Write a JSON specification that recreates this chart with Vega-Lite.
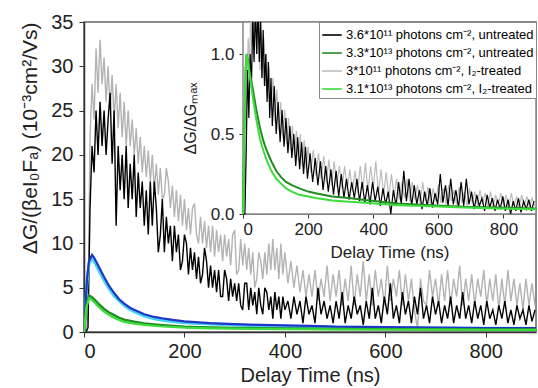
{
"$schema": "https://vega.github.io/schema/vega-lite/v6.json",
"autosize": {"type": "none"},
"padding": {"left": 84, "top": 22, "right": 2, "bottom": 56},
"width": 452,
"height": 310,
"config": {
  "font": "Liberation Sans",
  "view": {"stroke": "#666", "strokeWidth": 1.5},
  "axis": {"grid": false, "domainColor": "#333", "domainWidth": 1.5, "tickColor": "#333", "labelColor": "#222", "titleColor": "#222", "titleFontWeight": "normal", "zindex": 1}
},
"datasets": {
  "mk": [{"t":0,"v":0},{"t":4,"v":0},{"t":8,"v":0.5},{"t":12,"v":14},{"t":16,"v":21},{"t":20,"v":18},{"t":24,"v":25},{"t":28,"v":20},{"t":32,"v":26},{"t":36,"v":21},{"t":40,"v":25},{"t":44,"v":20},{"t":48,"v":24},{"t":52,"v":27},{"t":56,"v":19},{"t":60,"v":25},{"t":64,"v":12},{"t":68,"v":21},{"t":72,"v":16},{"t":76,"v":20},{"t":80,"v":15},{"t":84,"v":21},{"t":88,"v":14},{"t":92,"v":19},{"t":96,"v":15},{"t":100,"v":20},{"t":104,"v":13},{"t":108,"v":18},{"t":112,"v":14},{"t":116,"v":17},{"t":120,"v":12},{"t":124,"v":16},{"t":128,"v":11},{"t":132,"v":17},{"t":136,"v":12},{"t":140,"v":17},{"t":144,"v":14},{"t":148,"v":9},{"t":152,"v":11},{"t":156,"v":15},{"t":160,"v":9},{"t":164,"v":13},{"t":168,"v":10},{"t":172,"v":12},{"t":176,"v":8},{"t":180,"v":12},{"t":184,"v":9},{"t":188,"v":11},{"t":192,"v":7},{"t":196,"v":8},{"t":200,"v":11},{"t":204,"v":10},{"t":208,"v":6.5},{"t":212,"v":9.5},{"t":216,"v":7},{"t":220,"v":9},{"t":224,"v":6},{"t":228,"v":8.5},{"t":232,"v":5.5},{"t":236,"v":6.5},{"t":240,"v":9.5},{"t":244,"v":8},{"t":248,"v":5},{"t":252,"v":7.5},{"t":256,"v":5},{"t":260,"v":7},{"t":264,"v":4.5},{"t":268,"v":7},{"t":272,"v":4},{"t":276,"v":4},{"t":280,"v":7},{"t":284,"v":6},{"t":288,"v":3.5},{"t":292,"v":6},{"t":296,"v":4},{"t":300,"v":5.5},{"t":304,"v":3.5},{"t":308,"v":5.5},{"t":312,"v":3},{"t":316,"v":2.5},{"t":320,"v":5.5},{"t":324,"v":5.5},{"t":328,"v":2.5},{"t":332,"v":5},{"t":336,"v":3},{"t":340,"v":4.5},{"t":344,"v":2},{"t":348,"v":5},{"t":352,"v":3},{"t":356,"v":2},{"t":360,"v":5},{"t":364,"v":4.5},{"t":368,"v":2.5},{"t":372,"v":4},{"t":376,"v":1.5},{"t":380,"v":4.5},{"t":384,"v":2.5},{"t":388,"v":4},{"t":392,"v":1.5},{"t":396,"v":4},{"t":400,"v":2.5},{"t":406,"v":3.5},{"t":412,"v":1.5},{"t":418,"v":4},{"t":424,"v":2},{"t":430,"v":3.5},{"t":436,"v":1},{"t":442,"v":4},{"t":448,"v":2},{"t":454,"v":3},{"t":460,"v":1},{"t":466,"v":5},{"t":472,"v":2},{"t":478,"v":3.5},{"t":484,"v":1.5},{"t":490,"v":3},{"t":496,"v":1},{"t":502,"v":3.5},{"t":508,"v":1.5},{"t":514,"v":4.5},{"t":520,"v":1},{"t":526,"v":3},{"t":532,"v":1.5},{"t":538,"v":4},{"t":544,"v":2},{"t":550,"v":3},{"t":556,"v":0.8},{"t":562,"v":3.5},{"t":568,"v":1.5},{"t":574,"v":5},{"t":580,"v":1.5},{"t":586,"v":3},{"t":592,"v":1},{"t":598,"v":4},{"t":604,"v":2},{"t":610,"v":5.5},{"t":616,"v":1.5},{"t":622,"v":3},{"t":628,"v":1},{"t":634,"v":4.5},{"t":640,"v":2},{"t":646,"v":3.5},{"t":652,"v":1},{"t":658,"v":4},{"t":664,"v":2},{"t":670,"v":5},{"t":676,"v":1.5},{"t":682,"v":3},{"t":688,"v":1},{"t":694,"v":4},{"t":700,"v":2},{"t":706,"v":3.5},{"t":712,"v":1},{"t":718,"v":3},{"t":724,"v":1.5},{"t":730,"v":4},{"t":736,"v":1},{"t":742,"v":3},{"t":748,"v":1.5},{"t":754,"v":4.5},{"t":760,"v":1.5},{"t":766,"v":3},{"t":772,"v":1},{"t":778,"v":3.5},{"t":784,"v":1.5},{"t":790,"v":3},{"t":796,"v":0.8},{"t":802,"v":3.5},{"t":808,"v":1.5},{"t":814,"v":2.5},{"t":820,"v":0.8},{"t":826,"v":3},{"t":832,"v":1.5},{"t":838,"v":3.5},{"t":844,"v":1},{"t":850,"v":2.5},{"t":856,"v":0.8},{"t":862,"v":3},{"t":868,"v":1.5},{"t":874,"v":2.5},{"t":880,"v":0.8},{"t":886,"v":3},{"t":892,"v":1.2},{"t":898,"v":2.5}],
  "mg": [{"t":0,"v":0},{"t":4,"v":0},{"t":8,"v":2},{"t":12,"v":22},{"t":16,"v":28},{"t":20,"v":24},{"t":24,"v":32},{"t":28,"v":27},{"t":32,"v":33},{"t":36,"v":28},{"t":40,"v":31},{"t":44,"v":26},{"t":48,"v":30},{"t":52,"v":25},{"t":56,"v":29},{"t":60,"v":24},{"t":64,"v":28},{"t":68,"v":23},{"t":72,"v":27},{"t":76,"v":22},{"t":80,"v":26},{"t":84,"v":21},{"t":88,"v":25},{"t":92,"v":21},{"t":96,"v":24},{"t":100,"v":20},{"t":104,"v":23},{"t":108,"v":19},{"t":112,"v":22},{"t":116,"v":18},{"t":120,"v":21},{"t":124,"v":17.5},{"t":128,"v":20.5},{"t":132,"v":17},{"t":136,"v":20},{"t":140,"v":16},{"t":144,"v":19},{"t":148,"v":15.5},{"t":152,"v":18.5},{"t":156,"v":15},{"t":160,"v":15.5},{"t":164,"v":18.5},{"t":168,"v":17},{"t":172,"v":14},{"t":176,"v":16.5},{"t":180,"v":13},{"t":184,"v":16},{"t":188,"v":12.5},{"t":192,"v":15.5},{"t":196,"v":12},{"t":200,"v":15},{"t":204,"v":11.5},{"t":208,"v":14},{"t":212,"v":11},{"t":216,"v":14},{"t":220,"v":14.5},{"t":224,"v":11},{"t":228,"v":10},{"t":232,"v":13},{"t":236,"v":10},{"t":240,"v":12.5},{"t":244,"v":9.5},{"t":248,"v":12},{"t":252,"v":9},{"t":256,"v":12},{"t":260,"v":8.5},{"t":264,"v":11.5},{"t":268,"v":9},{"t":272,"v":11},{"t":276,"v":8},{"t":280,"v":11},{"t":284,"v":8.5},{"t":288,"v":10.5},{"t":292,"v":7.5},{"t":296,"v":11},{"t":300,"v":11.5},{"t":304,"v":6.5},{"t":308,"v":7},{"t":312,"v":10.5},{"t":316,"v":7.5},{"t":320,"v":10},{"t":324,"v":7},{"t":328,"v":9.5},{"t":332,"v":6.5},{"t":336,"v":9},{"t":340,"v":5},{"t":344,"v":6},{"t":348,"v":9},{"t":352,"v":8},{"t":356,"v":6},{"t":360,"v":9},{"t":364,"v":6.5},{"t":368,"v":10},{"t":372,"v":7},{"t":376,"v":10.5},{"t":380,"v":7},{"t":384,"v":9.5},{"t":388,"v":6},{"t":392,"v":10},{"t":396,"v":6.5},{"t":400,"v":9},{"t":406,"v":5.5},{"t":412,"v":8},{"t":418,"v":5},{"t":424,"v":7.5},{"t":430,"v":4.5},{"t":436,"v":7},{"t":442,"v":4},{"t":448,"v":6.5},{"t":454,"v":4},{"t":460,"v":7},{"t":466,"v":3.5},{"t":472,"v":6},{"t":478,"v":4},{"t":484,"v":7.5},{"t":490,"v":3.5},{"t":496,"v":6.5},{"t":502,"v":4},{"t":508,"v":7},{"t":514,"v":3},{"t":520,"v":6},{"t":526,"v":3.5},{"t":532,"v":7.5},{"t":538,"v":3},{"t":544,"v":6.5},{"t":550,"v":4},{"t":556,"v":8},{"t":562,"v":3.5},{"t":568,"v":6.5},{"t":574,"v":3},{"t":580,"v":7},{"t":586,"v":4},{"t":592,"v":6},{"t":598,"v":3},{"t":604,"v":7.5},{"t":610,"v":3.5},{"t":616,"v":6},{"t":622,"v":4},{"t":628,"v":7},{"t":634,"v":3},{"t":640,"v":6.5},{"t":646,"v":3.5},{"t":652,"v":6},{"t":658,"v":2.5},{"t":664,"v":0.3},{"t":670,"v":6},{"t":676,"v":3.5},{"t":682,"v":3},{"t":688,"v":7},{"t":694,"v":4},{"t":700,"v":6},{"t":706,"v":3},{"t":712,"v":6.5},{"t":718,"v":3.5},{"t":724,"v":7},{"t":730,"v":3},{"t":736,"v":6},{"t":742,"v":4},{"t":748,"v":7.5},{"t":754,"v":3},{"t":760,"v":6},{"t":766,"v":3.5},{"t":772,"v":6.5},{"t":778,"v":3},{"t":784,"v":6},{"t":790,"v":4},{"t":796,"v":7},{"t":802,"v":3},{"t":808,"v":6},{"t":814,"v":3.5},{"t":820,"v":6.5},{"t":826,"v":2.5},{"t":832,"v":6},{"t":838,"v":3},{"t":844,"v":7},{"t":850,"v":3.5},{"t":856,"v":6},{"t":862,"v":3},{"t":868,"v":5.5},{"t":874,"v":2.5},{"t":880,"v":6},{"t":886,"v":3},{"t":892,"v":5.5},{"t":898,"v":3}],
  "mb": [{"t":0,"v":0},{"t":6,"v":6},{"t":10,"v":8},{"t":16,"v":8.7},{"t":20,"v":8.4},{"t":30,"v":7.3},{"t":40,"v":6.2},{"t":50,"v":5.2},{"t":60,"v":4.4},{"t":70,"v":3.7},{"t":80,"v":3.2},{"t":90,"v":2.8},{"t":100,"v":2.5},{"t":120,"v":2.0},{"t":140,"v":1.7},{"t":160,"v":1.5},{"t":180,"v":1.35},{"t":200,"v":1.2},{"t":250,"v":1.0},{"t":300,"v":0.9},{"t":350,"v":0.8},{"t":400,"v":0.75},{"t":450,"v":0.7},{"t":500,"v":0.6},{"t":600,"v":0.55},{"t":700,"v":0.5},{"t":800,"v":0.45},{"t":900,"v":0.45}],
  "mc": [{"t":0,"v":0},{"t":6,"v":5.5},{"t":10,"v":7.8},{"t":16,"v":8.3},{"t":20,"v":8.0},{"t":30,"v":6.9},{"t":40,"v":5.8},{"t":50,"v":4.9},{"t":60,"v":4.1},{"t":70,"v":3.5},{"t":80,"v":3.0},{"t":90,"v":2.6},{"t":100,"v":2.3},{"t":120,"v":1.8},{"t":140,"v":1.5},{"t":160,"v":1.3},{"t":180,"v":1.15},{"t":200,"v":1.05},{"t":250,"v":0.9},{"t":300,"v":0.8},{"t":350,"v":0.7},{"t":400,"v":0.65},{"t":500,"v":0.55},{"t":600,"v":0.5},{"t":700,"v":0.45},{"t":800,"v":0.42},{"t":900,"v":0.4}],
  "mdg": [{"t":0,"v":0},{"t":5,"v":3},{"t":10,"v":4.1},{"t":14,"v":4.0},{"t":20,"v":3.7},{"t":30,"v":3.1},{"t":40,"v":2.6},{"t":50,"v":2.2},{"t":60,"v":1.9},{"t":70,"v":1.6},{"t":80,"v":1.4},{"t":100,"v":1.15},{"t":120,"v":0.95},{"t":150,"v":0.8},{"t":200,"v":0.6},{"t":250,"v":0.5},{"t":300,"v":0.45},{"t":400,"v":0.4},{"t":500,"v":0.35},{"t":600,"v":0.32},{"t":700,"v":0.3},{"t":800,"v":0.28},{"t":900,"v":0.27}],
  "mlg": [{"t":0,"v":0},{"t":5,"v":2.8},{"t":10,"v":3.8},{"t":14,"v":3.7},{"t":20,"v":3.4},{"t":30,"v":2.8},{"t":40,"v":2.3},{"t":50,"v":1.9},{"t":60,"v":1.6},{"t":70,"v":1.35},{"t":80,"v":1.15},{"t":100,"v":0.95},{"t":120,"v":0.8},{"t":150,"v":0.65},{"t":200,"v":0.5},{"t":250,"v":0.42},{"t":300,"v":0.38},{"t":400,"v":0.33},{"t":500,"v":0.3},{"t":600,"v":0.28},{"t":700,"v":0.26},{"t":800,"v":0.25},{"t":900,"v":0.24}],
  "ik": [{"t":0,"v":0},{"t":6,"v":0},{"t":10,"v":0.4},{"t":14,"v":0.9},{"t":18,"v":0.6},{"t":22,"v":1.0},{"t":26,"v":0.8},{"t":30,"v":1.25},{"t":34,"v":0.95},{"t":38,"v":1.3},{"t":42,"v":1.0},{"t":46,"v":1.3},{"t":50,"v":0.95},{"t":54,"v":1.25},{"t":58,"v":0.85},{"t":62,"v":1.15},{"t":66,"v":0.8},{"t":70,"v":1.0},{"t":74,"v":0.7},{"t":78,"v":0.95},{"t":82,"v":0.6},{"t":86,"v":0.85},{"t":90,"v":0.55},{"t":96,"v":0.8},{"t":102,"v":0.5},{"t":108,"v":0.7},{"t":114,"v":0.45},{"t":120,"v":0.65},{"t":126,"v":0.42},{"t":132,"v":0.6},{"t":138,"v":0.38},{"t":144,"v":0.55},{"t":150,"v":0.35},{"t":156,"v":0.5},{"t":162,"v":0.3},{"t":168,"v":0.48},{"t":174,"v":0.28},{"t":180,"v":0.45},{"t":186,"v":0.25},{"t":192,"v":0.42},{"t":198,"v":0.22},{"t":206,"v":0.38},{"t":214,"v":0.2},{"t":222,"v":0.35},{"t":230,"v":0.18},{"t":238,"v":0.33},{"t":246,"v":0.15},{"t":254,"v":0.3},{"t":262,"v":0.14},{"t":270,"v":0.28},{"t":278,"v":0.12},{"t":286,"v":0.27},{"t":294,"v":0.11},{"t":302,"v":0.25},{"t":310,"v":0.1},{"t":318,"v":0.22},{"t":326,"v":0.09},{"t":334,"v":0.2},{"t":342,"v":0.1},{"t":350,"v":0.22},{"t":358,"v":0.08},{"t":366,"v":0.2},{"t":374,"v":0.07},{"t":382,"v":0.18},{"t":390,"v":0.06},{"t":398,"v":0.2},{"t":406,"v":0.08},{"t":414,"v":0.17},{"t":422,"v":0.05},{"t":430,"v":0.16},{"t":438,"v":0.06},{"t":446,"v":0.14},{"t":454,"v":0.0},{"t":462,"v":0.15},{"t":470,"v":0.05},{"t":478,"v":0.2},{"t":486,"v":0.06},{"t":494,"v":0.27},{"t":502,"v":0.08},{"t":510,"v":0.22},{"t":518,"v":0.05},{"t":526,"v":0.18},{"t":534,"v":0.06},{"t":542,"v":0.15},{"t":550,"v":0.03},{"t":558,"v":0.14},{"t":566,"v":0.05},{"t":574,"v":0.16},{"t":582,"v":0.04},{"t":590,"v":0.13},{"t":598,"v":0.06},{"t":606,"v":0.25},{"t":614,"v":0.07},{"t":622,"v":0.18},{"t":630,"v":0.05},{"t":638,"v":0.22},{"t":646,"v":0.06},{"t":654,"v":0.15},{"t":662,"v":0.04},{"t":670,"v":0.2},{"t":678,"v":0.05},{"t":686,"v":0.22},{"t":694,"v":0.06},{"t":702,"v":0.14},{"t":710,"v":0.03},{"t":718,"v":0.12},{"t":726,"v":0.05},{"t":734,"v":0.1},{"t":742,"v":0.02},{"t":750,"v":0.12},{"t":758,"v":0.04},{"t":766,"v":0.1},{"t":774,"v":0.02},{"t":782,"v":0.09},{"t":790,"v":0.03},{"t":798,"v":0.11},{"t":806,"v":0.02},{"t":814,"v":0.09},{"t":822,"v":0.0},{"t":830,"v":0.08},{"t":838,"v":0.02},{"t":846,"v":0.1},{"t":854,"v":0.01},{"t":862,"v":0.08},{"t":870,"v":0.03},{"t":878,"v":0.09},{"t":886,"v":0.02},{"t":894,"v":0.08}],
  "ig": [{"t":0,"v":0},{"t":8,"v":0.3},{"t":12,"v":0.8},{"t":16,"v":1.1},{"t":20,"v":0.9},{"t":24,"v":1.3},{"t":28,"v":1.05},{"t":32,"v":1.3},{"t":36,"v":1.1},{"t":40,"v":1.3},{"t":44,"v":1.0},{"t":48,"v":1.25},{"t":52,"v":0.9},{"t":56,"v":1.15},{"t":60,"v":0.85},{"t":64,"v":1.1},{"t":68,"v":0.8},{"t":72,"v":1.0},{"t":76,"v":0.72},{"t":80,"v":0.92},{"t":86,"v":0.65},{"t":92,"v":0.85},{"t":98,"v":0.58},{"t":104,"v":0.78},{"t":110,"v":0.52},{"t":116,"v":0.7},{"t":122,"v":0.48},{"t":128,"v":0.65},{"t":134,"v":0.44},{"t":140,"v":0.6},{"t":146,"v":0.4},{"t":152,"v":0.55},{"t":158,"v":0.36},{"t":164,"v":0.52},{"t":170,"v":0.33},{"t":176,"v":0.5},{"t":182,"v":0.3},{"t":188,"v":0.46},{"t":194,"v":0.28},{"t":200,"v":0.42},{"t":208,"v":0.26},{"t":216,"v":0.4},{"t":224,"v":0.24},{"t":232,"v":0.38},{"t":240,"v":0.22},{"t":248,"v":0.36},{"t":256,"v":0.2},{"t":264,"v":0.34},{"t":272,"v":0.18},{"t":280,"v":0.33},{"t":288,"v":0.17},{"t":296,"v":0.3},{"t":304,"v":0.16},{"t":312,"v":0.3},{"t":320,"v":0.15},{"t":328,"v":0.28},{"t":336,"v":0.14},{"t":344,"v":0.27},{"t":352,"v":0.13},{"t":360,"v":0.3},{"t":368,"v":0.15},{"t":376,"v":0.32},{"t":384,"v":0.14},{"t":392,"v":0.3},{"t":400,"v":0.16},{"t":408,"v":0.33},{"t":416,"v":0.13},{"t":424,"v":0.28},{"t":432,"v":0.12},{"t":440,"v":0.26},{"t":448,"v":0.1},{"t":456,"v":0.25},{"t":464,"v":0.11},{"t":472,"v":0.22},{"t":480,"v":0.09},{"t":488,"v":0.2},{"t":496,"v":0.1},{"t":504,"v":0.22},{"t":512,"v":0.08},{"t":520,"v":0.2},{"t":528,"v":0.09},{"t":536,"v":0.18},{"t":544,"v":0.07},{"t":552,"v":0.2},{"t":560,"v":0.08},{"t":568,"v":0.17},{"t":576,"v":0.06},{"t":584,"v":0.16},{"t":592,"v":0.08},{"t":600,"v":0.18},{"t":608,"v":0.07},{"t":616,"v":0.16},{"t":624,"v":0.06},{"t":632,"v":0.18},{"t":640,"v":0.08},{"t":648,"v":0.15},{"t":656,"v":0.06},{"t":664,"v":0.17},{"t":672,"v":0.07},{"t":680,"v":0.14},{"t":688,"v":0.05},{"t":696,"v":0.16},{"t":704,"v":0.07},{"t":712,"v":0.14},{"t":720,"v":0.05},{"t":728,"v":0.15},{"t":736,"v":0.06},{"t":744,"v":0.13},{"t":752,"v":0.05},{"t":760,"v":0.14},{"t":768,"v":0.04},{"t":776,"v":0.12},{"t":784,"v":0.06},{"t":792,"v":0.13},{"t":800,"v":0.05},{"t":808,"v":0.12},{"t":816,"v":0.04},{"t":824,"v":0.13},{"t":832,"v":0.05},{"t":840,"v":0.11},{"t":848,"v":0.04},{"t":856,"v":0.12},{"t":864,"v":0.05},{"t":872,"v":0.11},{"t":880,"v":0.04},{"t":888,"v":0.1},{"t":896,"v":0.05}],
  "idg": [{"t":0,"v":0},{"t":4,"v":0.5},{"t":8,"v":0.9},{"t":11,"v":1.0},{"t":16,"v":0.95},{"t":21,"v":0.88},{"t":31,"v":0.77},{"t":41,"v":0.65},{"t":52,"v":0.54},{"t":62,"v":0.46},{"t":72,"v":0.4},{"t":87,"v":0.33},{"t":102,"v":0.27},{"t":117,"v":0.23},{"t":132,"v":0.2},{"t":150,"v":0.18},{"t":173,"v":0.16},{"t":200,"v":0.14},{"t":223,"v":0.13},{"t":274,"v":0.11},{"t":325,"v":0.1},{"t":375,"v":0.087},{"t":425,"v":0.077},{"t":476,"v":0.066},{"t":577,"v":0.055},{"t":678,"v":0.045},{"t":780,"v":0.04},{"t":900,"v":0.035}],
  "ilg": [{"t":0,"v":0},{"t":4,"v":0.5},{"t":8,"v":0.9},{"t":11,"v":1.0},{"t":16,"v":0.94},{"t":21,"v":0.86},{"t":31,"v":0.72},{"t":41,"v":0.59},{"t":52,"v":0.47},{"t":62,"v":0.4},{"t":72,"v":0.34},{"t":87,"v":0.27},{"t":102,"v":0.22},{"t":117,"v":0.19},{"t":132,"v":0.16},{"t":150,"v":0.14},{"t":173,"v":0.12},{"t":200,"v":0.11},{"t":223,"v":0.1},{"t":274,"v":0.085},{"t":325,"v":0.077},{"t":375,"v":0.07},{"t":425,"v":0.062},{"t":476,"v":0.055},{"t":577,"v":0.048},{"t":678,"v":0.04},{"t":780,"v":0.035},{"t":900,"v":0.03}],
  "box": [{"t":0,"t2":900,"v":0,"v2":1.2}]
},
"layer": [
  {
    "encoding": {
      "x": {"field": "t", "type": "quantitative", "scale": {"domain": [0, 900], "nice": false, "zero": false},
            "axis": {"orient": "bottom", "values": [0, 200, 400, 600, 800], "title": "Delay Time (ns)", "labelFontSize": 20, "titleFontSize": 20, "tickSize": 5, "labelPadding": 4, "titlePadding": 4}},
      "y": {"field": "v", "type": "quantitative", "scale": {"domain": [0, 35], "nice": false, "zero": false},
            "axis": {"orient": "left", "values": [0, 5, 10, 15, 20, 25, 30, 35], "title": "ΔG/(βeI₀Fₐ) (10⁻³cm²/Vs)", "labelFontSize": 20, "titleFontSize": 21, "tickSize": 5, "labelPadding": 6, "titlePadding": 10, "titleAnchor": "end"}}
    },
    "layer": [
      {"data": {"name": "mg"}, "mark": {"type": "line", "color": "#b3b3b3", "strokeWidth": 1.4, "clip": true}},
      {"data": {"name": "mk"}, "mark": {"type": "line", "color": "#000000", "strokeWidth": 1.4, "clip": true}},
      {"data": {"name": "mc"}, "mark": {"type": "line", "color": "#45d2f0", "strokeWidth": 3, "clip": true}},
      {"data": {"name": "mb"}, "mark": {"type": "line", "color": "#1f35c8", "strokeWidth": 2.2, "clip": true}},
      {"data": {"name": "mdg"}, "mark": {"type": "line", "color": "#238a23", "strokeWidth": 2.5, "clip": true}},
      {"data": {"name": "mlg"}, "mark": {"type": "line", "color": "#3ddc3d", "strokeWidth": 2.2, "clip": true}}
    ]
  },
  {
    "encoding": {
      "x": {"field": "t", "type": "quantitative", "scale": {"domain": [0, 900], "range": [159, 452], "nice": false, "zero": false},
            "axis": {"orient": "bottom", "offset": -118, "values": [0, 200, 400, 600, 800], "title": "Delay Time (ns)", "labelFontSize": 17, "titleFontSize": 17, "tickSize": 4, "labelPadding": 3, "titlePadding": 7, "domainColor": "#777", "domainWidth": 1.2}},
      "y": {"field": "v", "type": "quantitative", "scale": {"domain": [0, 1.2], "range": [192, 0], "nice": false, "zero": false},
            "axis": {"orient": "left", "offset": -159, "values": [0, 0.5, 1.0], "format": ".1f", "title": "ΔG/ΔGₘₐₓ", "labelFontSize": 17, "titleFontSize": 16, "tickSize": 4, "labelPadding": 5, "titlePadding": 12, "domainColor": "#777", "domainWidth": 1.2}}
    },
    "layer": [
      {"data": {"name": "box"}, "mark": {"type": "rect", "fill": "#ffffff", "stroke": "#888888", "strokeWidth": 1.5},
       "encoding": {"x2": {"field": "t2"}, "y2": {"field": "v2"}}},
      {"data": {"name": "ig"}, "mark": {"type": "line", "strokeWidth": 1.2, "clip": true},
       "encoding": {"color": {"datum": "3*10¹¹ photons cm⁻², I₂-treated", "type": "nominal",
         "scale": {"domain": ["3.6*10¹¹ photons cm⁻², untreated", "3.3*10¹³ photons cm⁻², untreated", "3*10¹¹ photons cm⁻², I₂-treated", "3.1*10¹³ photons cm⁻², I₂-treated"], "range": ["#000000", "#238a23", "#bcbcbc", "#3ddc3d"]},
         "legend": {"orient": "top-right", "offset": 0, "title": null, "symbolType": "stroke", "symbolSize": 380, "symbolStrokeWidth": 1.6, "labelFontSize": 13, "labelLimit": 300, "labelOffset": 3, "fillColor": "#ffffff", "strokeColor": "#888888", "padding": 2, "rowPadding": 0}}}},
      {"data": {"name": "ik"}, "mark": {"type": "line", "strokeWidth": 1.2, "clip": true},
       "encoding": {"color": {"datum": "3.6*10¹¹ photons cm⁻², untreated", "type": "nominal"}}},
      {"data": {"name": "idg"}, "mark": {"type": "line", "strokeWidth": 2, "clip": true},
       "encoding": {"color": {"datum": "3.3*10¹³ photons cm⁻², untreated", "type": "nominal"}}},
      {"data": {"name": "ilg"}, "mark": {"type": "line", "strokeWidth": 2, "clip": true},
       "encoding": {"color": {"datum": "3.1*10¹³ photons cm⁻², I₂-treated", "type": "nominal"}}}
    ]
  }
],
"resolve": {"scale": {"x": "independent", "y": "independent", "color": "independent"}, "axis": {"x": "independent", "y": "independent"}}
}
